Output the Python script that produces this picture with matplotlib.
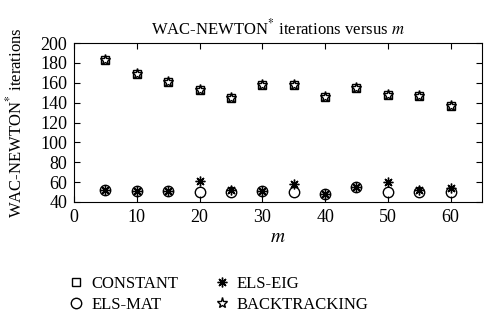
import matplotlib
matplotlib.use('Agg')
import matplotlib.pyplot as plt

plt.rcParams['font.family'] = ['Liberation Serif', 'DejaVu Serif']
plt.rcParams['mathtext.fontset'] = 'stix'

# data
m = [5, 10, 15, 20, 25, 30, 35, 40, 45, 50, 55, 60]
constant = [183, 169, 161, 153, 145, 158, 158, 146, 155, 148, 147, 137]
backtracking = [183, 169, 161, 153, 145, 158, 158, 146, 155, 148, 147, 137]
els_mat = [52, 51, 51, 50, 50, 51, 50, 48, 55, 50, 50, 50]
els_eig = [52, 51, 51, 61, 52, 51, 58, 48, 55, 60, 52, 54]

fig = plt.figure(figsize=(5, 3.32), dpi=100)
ax = fig.add_axes([0.148, 0.392, 0.816, 0.478])

kw = dict(linestyle='none', color='black', markerfacecolor='none', markeredgewidth=1.0)
h1, = ax.plot(m, constant, marker='s', markersize=6, label='CONSTANT', **kw)
h2, = ax.plot(m, els_mat, marker='o', markersize=7.5, label='ELS-MAT', **kw)
h3, = ax.plot(m, els_eig, marker=(8, 2, 0), markersize=7, label='ELS-EIG', **kw)
h4, = ax.plot(m, backtracking, marker='*', markersize=8, label='BACKTRACKING', **kw)

ax.set_xlim(0, 65)
ax.set_ylim(40, 200)
ax.set_xticks(range(0, 61, 10))
ax.set_yticks(range(40, 201, 20))
ax.tick_params(direction='in', top=True, right=True, labelsize=13, length=4, pad=5)
ax.set_title(r'WAC-NEWTON$^{*}$ iterations versus $m$', fontsize=12, pad=6)
ax.set_xlabel(r'$m$', fontsize=14, labelpad=2)
ax.set_ylabel(r'WAC-NEWTON$^{*}$ iterations', fontsize=12)
ax.yaxis.set_label_coords(-0.118, 0.5)

fig.legend(handles=[h1, h2, h3, h4], ncol=2, frameon=False, fontsize=12,
           loc='upper left', bbox_to_anchor=(0.126, 0.19),
           handlelength=0.8, handletextpad=0.5, columnspacing=2.2,
           labelspacing=0.3, borderaxespad=0)

fig.savefig('out.png', dpi=100)
